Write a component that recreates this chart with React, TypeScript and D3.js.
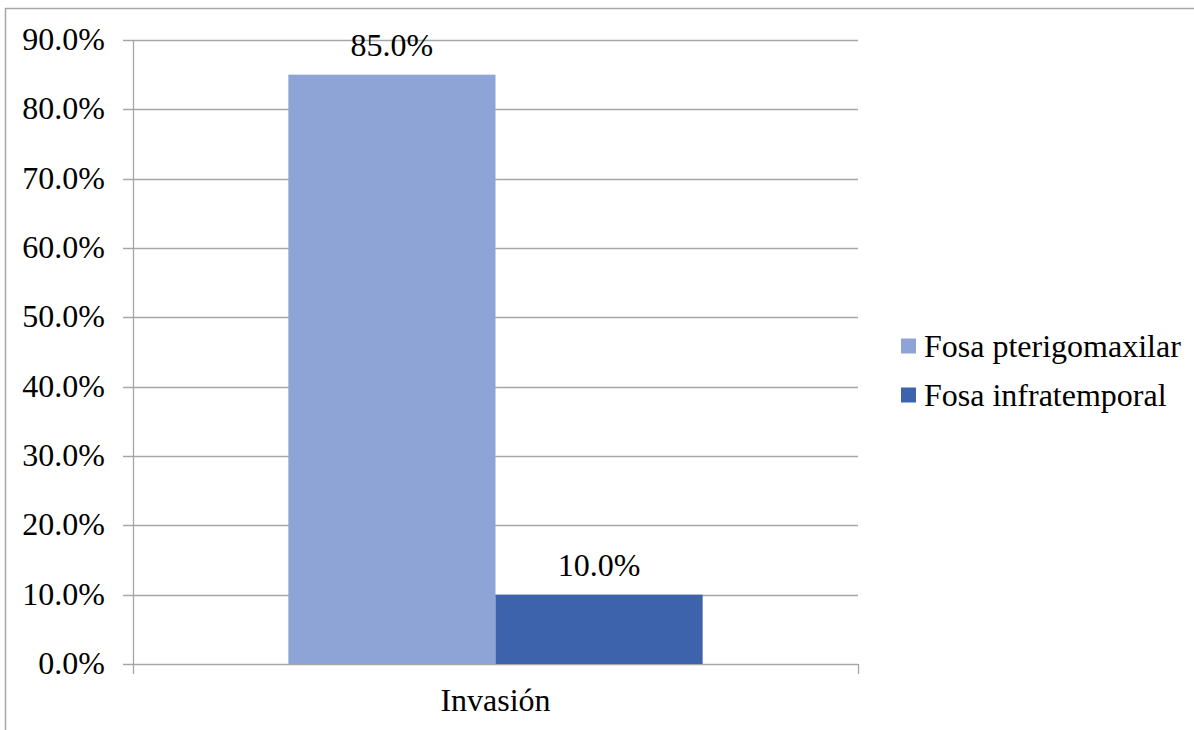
import { useEffect, useRef } from 'react';
import * as d3 from 'd3';

const categories = ['Invasión'];
const seriesNames = ['Fosa pterigomaxilar', 'Fosa infratemporal'];
const seriesValues = [[85.0], [10.0]];
const seriesColors = ['#8FA4D6', '#3C63AC'];
const yTicks = [0, 10, 20, 30, 40, 50, 60, 70, 80, 90];

export default function App() {
  const ref = useRef<SVGSVGElement>(null);

  useEffect(() => {
    const svg = d3.select(ref.current);
    svg.selectAll('*').remove();

    const font = "'Liberation Serif', 'Times New Roman', Tinos, 'DejaVu Serif', serif";
    const fs = 32;
    const left = 133, right = 858, top = 40, bottom = 664;

    // outer frame
    svg.append('rect')
      .attr('x', 5.5).attr('y', 8.5)
      .attr('width', 1200).attr('height', 800)
      .attr('fill', 'none').attr('stroke', '#A6A6A6').attr('stroke-width', 1.5);

    const x = d3.scaleBand().domain(categories).range([left, right]).paddingInner(0).paddingOuter(0);
    const y = d3.scaleLinear().domain([0, 90]).range([bottom, top]);

    const inner = d3.scaleBand()
      .domain(seriesNames)
      .range([0, x.bandwidth()])
      .paddingOuter(0.75).paddingInner(0);

    // gridlines + tick marks
    svg.append('g').selectAll('line').data(yTicks).enter().append('line')
      .attr('x1', left - 10).attr('x2', right)
      .attr('y1', d => Math.round(y(d)) + 0.5).attr('y2', d => Math.round(y(d)) + 0.5)
      .attr('stroke', '#A6A6A6').attr('stroke-width', 1.3);

    // y axis line
    svg.append('line')
      .attr('x1', left + 0.5).attr('x2', left + 0.5)
      .attr('y1', top).attr('y2', bottom + 10)
      .attr('stroke', '#A6A6A6').attr('stroke-width', 1.3);

    // x axis tick mark at category boundary
    svg.append('line')
      .attr('x1', right + 0.5).attr('x2', right + 0.5)
      .attr('y1', bottom).attr('y2', bottom + 10)
      .attr('stroke', '#A6A6A6').attr('stroke-width', 1.3);

    // y labels
    svg.append('g').selectAll('text').data(yTicks).enter().append('text')
      .attr('x', 105).attr('y', d => y(d) + 10)
      .attr('text-anchor', 'end')
      .style('font-family', font).style('font-size', fs + 'px')
      .text(d => d.toFixed(1) + '%');

    // bars
    seriesNames.forEach((s, i) => {
      const g = svg.append('g');
      categories.forEach((c, j) => {
        const v = seriesValues[i][j];
        const bx = x(c)! + inner(s)!;
        g.append('rect')
          .attr('x', bx).attr('y', y(v))
          .attr('width', inner.bandwidth()).attr('height', bottom - y(v))
          .attr('fill', seriesColors[i]);
        g.append('text')
          .attr('x', bx + inner.bandwidth() / 2).attr('y', y(v) - 19)
          .attr('text-anchor', 'middle')
          .style('font-family', font).style('font-size', fs + 'px')
          .text(v.toFixed(1) + '%');
      });
    });

    // x category label
    svg.append('g').selectAll('text').data(categories).enter().append('text')
      .attr('x', d => x(d)! + x.bandwidth() / 2).attr('y', 711)
      .attr('text-anchor', 'middle')
      .style('font-family', font).style('font-size', fs + 'px')
      .text(d => d);

    // legend
    const legend = svg.append('g');
    seriesNames.forEach((s, i) => {
      const ly = 346 + i * 49;
      legend.append('rect')
        .attr('x', 901).attr('y', ly - 7.5)
        .attr('width', 15).attr('height', 15)
        .attr('fill', seriesColors[i]);
      legend.append('text')
        .attr('x', 924).attr('y', ly + 11)
        .style('font-family', font).style('font-size', fs + 'px')
        .text(s);
    });
  }, []);

  return (
    <svg ref={ref} width={1194} height={730}
      style={{ position: 'absolute', left: 0, top: 0, background: '#fff' }} />
  );
}
